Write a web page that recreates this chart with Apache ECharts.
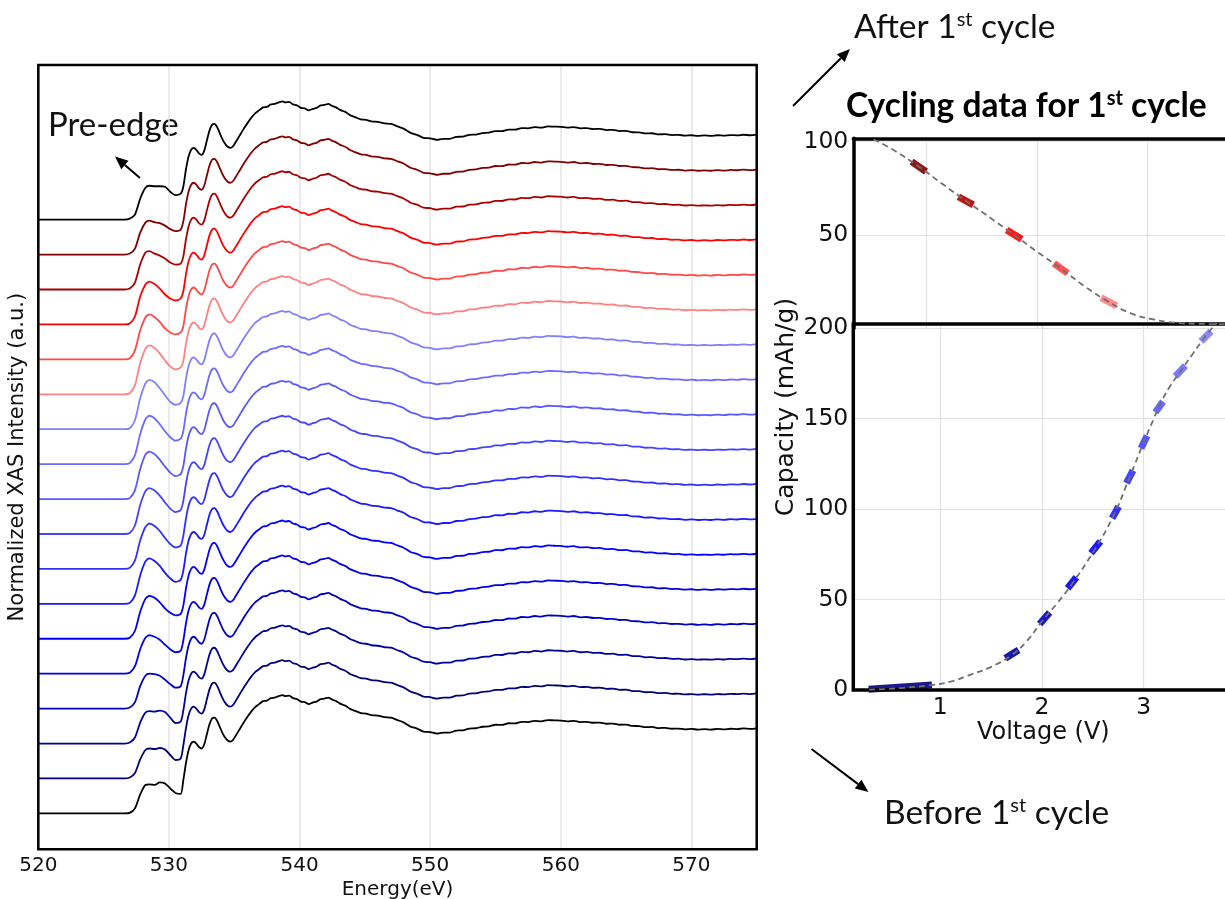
<!DOCTYPE html>
<html><head><meta charset="utf-8">
<script src="https://cdn.jsdelivr.net/npm/echarts@6/dist/echarts.min.js"></script>
<style>html,body{margin:0;padding:0;background:#fff}#c{width:1225px;height:899px}</style>
</head><body><div id="c"></div>
<script>
// ---------------- Left panel: O K-edge XAS spectra (stacked) ----------------
const ENERGY_TICKS = [520, 530, 540, 550, 560, 570];
const ENERGY_PRE = [520, 526.6, 527.0, 527.4, 527.8, 528.2, 528.5, 528.9, 529.3, 529.7, 530.1, 530.5, 530.9];
// pre-edge intensity (a.u., above each curve's own baseline), top curve first
const pre01 = [0, 0, 0.01, 0.05, 0.21, 0.32, 0.34, 0.335, 0.335, 0.33, 0.28, 0.245, 0.26];
const pre02 = [0, 0, 0.01, 0.06, 0.22, 0.32, 0.34, 0.325, 0.315, 0.29, 0.255, 0.235, 0.25];
const pre03 = [0, 0, 0.01, 0.07, 0.25, 0.37, 0.385, 0.36, 0.34, 0.31, 0.27, 0.25, 0.26];
const pre04 = [0, 0, 0.01, 0.08, 0.28, 0.40, 0.43, 0.405, 0.36, 0.30, 0.26, 0.24, 0.26];
const pre05 = [0, 0, 0.01, 0.09, 0.29, 0.42, 0.45, 0.425, 0.375, 0.31, 0.27, 0.25, 0.27];
const pre06 = [0, 0, 0.01, 0.09, 0.31, 0.455, 0.49, 0.465, 0.41, 0.34, 0.28, 0.25, 0.27];
const pre07 = [0, 0, 0.01, 0.09, 0.31, 0.46, 0.495, 0.47, 0.41, 0.34, 0.275, 0.245, 0.265];
const pre08 = [0, 0, 0.01, 0.09, 0.30, 0.45, 0.485, 0.46, 0.40, 0.33, 0.27, 0.235, 0.255];
const pre09 = [0, 0, 0.01, 0.09, 0.30, 0.445, 0.475, 0.45, 0.395, 0.325, 0.265, 0.23, 0.25];
const pre10 = [0, 0, 0.01, 0.085, 0.29, 0.43, 0.46, 0.435, 0.385, 0.315, 0.255, 0.22, 0.24];
const pre11 = [0, 0, 0.01, 0.085, 0.285, 0.42, 0.455, 0.43, 0.38, 0.31, 0.25, 0.215, 0.235];
const pre12 = [0, 0, 0.01, 0.085, 0.285, 0.425, 0.455, 0.43, 0.38, 0.31, 0.255, 0.22, 0.24];
const pre13 = [0, 0, 0.01, 0.08, 0.27, 0.40, 0.43, 0.41, 0.365, 0.305, 0.26, 0.235, 0.25];
const pre14 = [0, 0, 0.01, 0.075, 0.245, 0.36, 0.385, 0.37, 0.34, 0.29, 0.245, 0.215, 0.23];
const pre15 = [0, 0, 0.01, 0.065, 0.225, 0.33, 0.35, 0.345, 0.33, 0.29, 0.245, 0.21, 0.225];
const pre16 = [0, 0, 0.01, 0.06, 0.21, 0.31, 0.325, 0.32, 0.33, 0.315, 0.26, 0.205, 0.22];
const pre17 = [0, 0, 0.01, 0.055, 0.19, 0.285, 0.30, 0.295, 0.305, 0.29, 0.235, 0.185, 0.20];
const pre18 = [0, 0, 0.005, 0.05, 0.19, 0.285, 0.29, 0.285, 0.31, 0.30, 0.25, 0.205, 0.195];
// main edge + post-edge region shared by all spectra: [energy eV, intensity a.u.]
const POST_EDGE = [
  [531.1,0.33],[531.3,0.50],[531.5,0.63],[531.7,0.70],[531.9,0.72],[532.1,0.70],[532.3,0.665],[532.5,0.65],
  [532.7,0.69],[532.9,0.79],[533.1,0.89],[533.3,0.95],[533.5,0.96],[533.7,0.925],[533.9,0.865],[534.1,0.805],
  [534.3,0.76],[534.5,0.73],[534.7,0.72],[534.9,0.735],[535.1,0.775],[535.4,0.84],[535.7,0.905],[536.0,0.965],
  [536.3,1.02],[536.6,1.065],[536.9,1.095],[537.2,1.125],[537.5,1.13],[537.8,1.155],[538.1,1.16],[538.4,1.175],
  [538.7,1.185],[538.9,1.175],[539.2,1.18],[539.5,1.155],[539.8,1.145],[540.1,1.12],[540.4,1.115],[540.7,1.095],
  [541.0,1.11],[541.3,1.12],[541.6,1.145],[541.9,1.15],[542.2,1.16],[542.5,1.14],[542.8,1.125],[543.1,1.10],
  [543.5,1.08],[543.9,1.045],[544.3,1.025],[544.7,1.005],[545.1,1.0],[545.5,0.985],[546.0,0.98],[546.5,0.965],
  [547.0,0.96],[547.5,0.935],[548.0,0.91],[548.5,0.87],[549.0,0.85],[549.5,0.82],[550.0,0.815],[550.5,0.80],
  [551.0,0.81],[551.5,0.81],[552.0,0.83],[552.5,0.832],[553.0,0.85],[553.5,0.853],[554.0,0.868],[554.5,0.872],
  [555.0,0.888],[555.5,0.887],[556.0,0.903],[556.5,0.902],[557.0,0.918],[557.5,0.915],[558.0,0.928],[558.5,0.922],
  [559.0,0.935],[559.5,0.932],[560.0,0.93],[560.5,0.922],[561.0,0.928],[561.5,0.915],[562.0,0.918],[562.5,0.908],
  [563.0,0.91],[563.5,0.898],[564.0,0.90],[564.5,0.888],[565.0,0.89],[565.5,0.876],[566.0,0.875],[566.5,0.864],
  [567.0,0.866],[567.5,0.855],[568.0,0.857],[568.5,0.848],[569.0,0.85],[569.5,0.842],[570.0,0.846],[570.5,0.84],
  [571.0,0.844],[571.5,0.84],[572.0,0.846],[572.5,0.842],[573.0,0.848],[573.5,0.845],[574.0,0.851],[574.5,0.846],[575.0,0.852]
];
const CURVE_OFFSET_STEP = 0.35;
const CURVE_COLORS = ['#000000','#800000','#a80000','#ff0000','#ff4848','#ff8080',
  '#8080ff','#6b6bff','#5858ff','#4444ff','#3030ff','#1a1aff','#0000ff','#0000e0','#0000c0','#00009c','#000078','#000000'];

// ---------------- Right panel: cycling data ----------------
const VOLT_TICKS = [1, 2, 3];
// upper panel: gray dashed curve [V, capacity]
const UPPER_CURVE_V = [0.52, 0.70, 0.93, 1.15, 1.353, 1.58, 1.793, 2.0, 2.213, 2.43, 2.644, 2.85, 3.05, 3.25, 3.45, 3.75];
const UPPER_CURVE_C = [101.2, 95.5, 86.6, 77.0, 68.4, 59.0, 50.0, 41.0, 32.1, 22.5, 14.3, 8.0, 4.8, 3.0, 2.4, 2.2];
const UPPER_SEG_V0 = [0.864, 1.287, 1.724, 2.152, 2.578];
const UPPER_SEG_V1 = [0.994, 1.422, 1.860, 2.276, 2.719];
const UPPER_SEG_C0 = [89.3, 70.5, 52.7, 34.8, 16.4];
const UPPER_SEG_C1 = [83.9, 66.1, 47.7, 29.5, 12.0];
const UPPER_SEG_COLORS = ['#800000', '#b00000', '#ff0000', '#ff4040', '#ff8080'];
// lower panel
const LOWER_CURVE_V = [0.30, 0.60, 0.92, 1.10, 1.30, 1.50, 1.70, 1.85, 2.00, 2.15, 2.30, 2.50, 2.70, 2.862, 3.0, 3.10, 3.148, 3.25, 3.354, 3.48, 3.607, 3.72];
const LOWER_CURVE_C = [0.2, 1.0, 2.8, 4.6, 8.5, 12.8, 19.2, 27.0, 38.0, 48.0, 59.0, 76.0, 96.0, 117.6, 136.8, 150.0, 156.3, 167.0, 175.5, 185.5, 195.4, 203.0];
const LOWER_SEG_V0 = [0.295, 1.639, 1.977, 2.252, 2.482, 2.689, 2.830, 2.974, 3.115, 3.311, 3.564];
const LOWER_SEG_V1 = [0.918, 1.770, 2.075, 2.338, 2.574, 2.754, 2.895, 3.033, 3.190, 3.410, 3.662];
const LOWER_SEG_C0 = [0.4, 17.5, 36.5, 56.2, 75.6, 94.9, 114.3, 133.6, 153.4, 173.3, 192.6];
const LOWER_SEG_C1 = [2.7, 22.1, 42.8, 62.3, 82.0, 101.4, 121.3, 140.5, 159.4, 179.2, 198.2];
const LOWER_SEG_COLORS = ['#000080', '#00009c', '#0000c0', '#0000e0', '#0000ff', '#1a1aff', '#3030ff', '#4444ff', '#5858ff', '#6b6bff', '#8080ff'];

// ---------------- build ----------------
const PRE_CURVES = [pre01, pre02, pre03, pre04, pre05, pre06, pre07, pre08, pre09, pre10, pre11, pre12, pre13, pre14, pre15, pre16, pre17, pre18];
const series = [];
PRE_CURVES.forEach((pre, k) => {
  const off = (PRE_CURVES.length - 1 - k) * CURVE_OFFSET_STEP;
  const data = ENERGY_PRE.map((e, i) => [e, pre[i] + off]).concat(POST_EDGE.map(p => [p[0], p[1] + off]));
  series.push({type: 'line', xAxisIndex: 0, yAxisIndex: 0, data, showSymbol: false, smooth: 0.25,
    silent: true, z: 2, lineStyle: {color: CURVE_COLORS[k], width: 1.8}});
});
UPPER_SEG_V0.forEach((v, i) => series.push({type: 'line', xAxisIndex: 1, yAxisIndex: 1, showSymbol: false, silent: true, z: 2,
  data: [[v, UPPER_SEG_C0[i]], [UPPER_SEG_V1[i], UPPER_SEG_C1[i]]],
  lineStyle: {color: UPPER_SEG_COLORS[i], width: 7, opacity: 0.9, cap: 'butt'}}));
series.push({type: 'line', xAxisIndex: 1, yAxisIndex: 1, showSymbol: false, silent: true, smooth: true, z: 3,
  data: UPPER_CURVE_V.map((v, i) => [v, UPPER_CURVE_C[i]]),
  lineStyle: {color: '#707070', width: 1.8, type: [6, 4]}});
LOWER_SEG_V0.forEach((v, i) => series.push({type: 'line', xAxisIndex: 2, yAxisIndex: 2, showSymbol: false, silent: true, z: 2,
  data: [[v, LOWER_SEG_C0[i]], [LOWER_SEG_V1[i], LOWER_SEG_C1[i]]],
  lineStyle: {color: LOWER_SEG_COLORS[i], width: 7, opacity: 0.9, cap: 'butt'}}));
series.push({type: 'line', xAxisIndex: 2, yAxisIndex: 2, showSymbol: false, silent: true, smooth: true, z: 3,
  data: LOWER_CURVE_V.map((v, i) => [v, LOWER_CURVE_C[i]]),
  lineStyle: {color: '#707070', width: 1.8, type: [6, 4]}});

const DJ = 'DejaVu Sans';
const gridLine = {show: true, lineStyle: {color: '#e2e2e2', width: 1.2}};
function arrow(x1, y1, x2, y2) {
  const a = Math.atan2(y2 - y1, x2 - x1), L = 13, W = 5.5;
  const bx = x2 - L * Math.cos(a), by = y2 - L * Math.sin(a);
  const px = -Math.sin(a) * W, py = Math.cos(a) * W;
  return [
    {type: 'line', shape: {x1, y1, x2: bx, y2: by}, style: {stroke: '#000', lineWidth: 2}},
    {type: 'polygon', shape: {points: [[x2, y2], [bx + px, by + py], [bx - px, by - py]]}, style: {fill: '#000'}}
  ];
}
const LATO = 'Lato';
const option = {
  animation: false,
  backgroundColor: '#fff',
  grid: [
    {left: 38.3, top: 65, width: 718.4, height: 784.3, show: true, borderColor: '#000', borderWidth: 2.5,
     backgroundColor: 'transparent', z: 3, containLabel: false, outerBoundsMode: 'none'},
    {left: 853.3, top: 138.3, width: 380, height: 190, show: false, containLabel: false, outerBoundsMode: 'none'},
    {left: 853.3, top: 324, width: 380, height: 366, show: true, borderColor: '#000', borderWidth: 3.5,
     backgroundColor: 'transparent', z: 3, containLabel: false, outerBoundsMode: 'none'}
  ],
  xAxis: [
    {gridIndex: 0, type: 'value', min: 520, max: 575, interval: 10,
     axisLine: {show: false}, axisTick: {show: false},
     axisLabel: {fontFamily: DJ, fontSize: 20, color: '#111', margin: 6,
       formatter: v => (ENERGY_TICKS.indexOf(v) >= 0 ? String(v) : '')},
     splitLine: {show: true, lineStyle: {color: '#e4e4e4', width: 1.5}},
     name: 'Energy(eV)', nameLocation: 'middle', nameGap: 27,
     nameTextStyle: {fontFamily: DJ, fontSize: 20, color: '#111'}},
    {gridIndex: 1, type: 'value', position: 'top', min: 0.336, max: 3.775, minInterval: 1, maxInterval: 1,
     axisLine: {show: true, onZero: false, lineStyle: {color: '#000', width: 3.5}}, axisTick: {show: false},
     axisLabel: {show: false}, splitLine: gridLine},
    {gridIndex: 2, type: 'value', min: 0.1446, max: 3.881, minInterval: 1, maxInterval: 1,
     axisLine: {show: false}, axisTick: {show: false},
     axisLabel: {fontFamily: DJ, fontSize: 23.5, color: '#111', margin: 6,
       formatter: v => (VOLT_TICKS.indexOf(v) >= 0 ? String(v) : '')},
     splitLine: gridLine,
     name: 'Voltage (V)', nameLocation: 'middle', nameGap: 30,
     nameTextStyle: {fontFamily: DJ, fontSize: 24, color: '#111'}}
  ],
  yAxis: [
    {gridIndex: 0, type: 'value', min: -0.36, max: 7.5,
     axisLine: {show: false}, axisTick: {show: false}, axisLabel: {show: false}, splitLine: {show: false},
     name: 'Normalized XAS Intensity (a.u.)', nameLocation: 'middle', nameGap: 10,
     nameTextStyle: {fontFamily: DJ, fontSize: 21, color: '#111'}},
    {gridIndex: 1, type: 'value', min: 0, max: 101.8, interval: 50,
     axisLine: {show: true, onZero: false, lineStyle: {color: '#000', width: 3.5}}, axisTick: {show: false},
     axisLabel: {fontFamily: DJ, fontSize: 23.5, color: '#111', margin: 5,
       formatter: v => (v === 50 || v === 100 ? String(v) : '')},
     splitLine: gridLine},
    {gridIndex: 2, type: 'value', min: 0, max: 202.2, interval: 50,
     axisLine: {show: false}, axisTick: {show: false},
     axisLabel: {fontFamily: DJ, fontSize: 23.5, color: '#111', margin: 5,
       formatter: v => (v % 50 === 0 ? String(v) : '')},
     splitLine: gridLine}
  ],
  series,
  graphic: [
    ...arrow(140, 178, 115, 156.5),
    ...arrow(793, 106, 850, 49),
    ...arrow(811.5, 749, 868.5, 792),
    {type: 'text', left: 48, top: 109, style: {text: 'Pre-edge', fontFamily: LATO, fontSize: 33, fill: '#111'}},
    {type: 'text', left: 854, top: 10, style: {text: '{a|After 1}{s|st}{a| cycle}', fill: '#111',
      rich: {a: {fontFamily: LATO, fontSize: 33.5, fill: '#111'}, s: {fontFamily: LATO, fontSize: 20, verticalAlign: 'top', fill: '#111'}}}},
    {type: 'text', left: 846, top: 89, style: {text: '{a|Cycling data for 1}{s|st}{a| cycle}', fill: '#000',
      rich: {a: {fontFamily: LATO, fontWeight: 'bold', fontSize: 33.5, fill: '#000'}, s: {fontFamily: LATO, fontWeight: 'bold', fontSize: 20, verticalAlign: 'top', fill: '#000'}}}},
    {type: 'text', left: 884, top: 796, style: {text: '{a|Before 1}{s|st}{a| cycle}', fill: '#111',
      rich: {a: {fontFamily: LATO, fontSize: 33.5, fill: '#111'}, s: {fontFamily: LATO, fontSize: 20, verticalAlign: 'top', fill: '#111'}}}},
    {type: 'text', x: 786, y: 407, rotation: Math.PI / 2,
     style: {text: 'Capacity (mAh/g)', fontFamily: DJ, fontSize: 25, fill: '#111', align: 'center', verticalAlign: 'middle'}}
  ]
};
const chart = echarts.init(document.getElementById('c'), null, {renderer: 'canvas'});
chart.setOption(option);
</script>
</body></html>
